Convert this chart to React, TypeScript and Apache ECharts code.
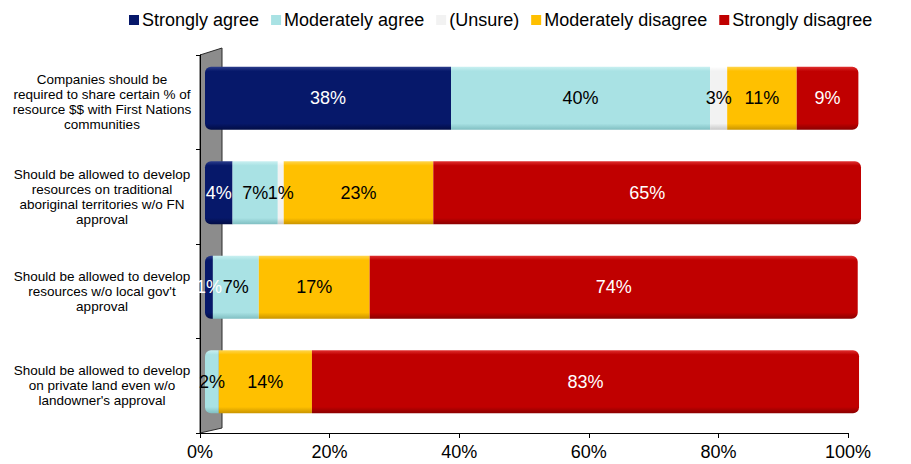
import React, { useEffect, useRef } from "react";
import * as echarts from "echarts";

const categories = [
  "Companies should be\nrequired to share certain % of\nresource $$ with First Nations\ncommunities",
  "Should be allowed to develop\nresources on traditional\naboriginal territories w/o FN\napproval",
  "Should be allowed to develop\nresources w/o local gov't\napproval",
  "Should be allowed to develop\non private land even w/o\nlandowner's approval",
];

const seriesNames = [
  "Strongly agree",
  "Moderately agree",
  "(Unsure)",
  "Moderately disagree",
  "Strongly disagree",
];

const stronglyAgree = [37.5, 4.2, 1.2, 0];
const moderatelyAgree = [39.5, 6.9, 7.0, 2.1];
const unsure = [2.6, 0.9, 0, 0];
const moderatelyDisagree = [10.6, 22.8, 16.9, 14.2];
const stronglyDisagree = [9.4, 65.2, 74.4, 83.4];

const xTicks = [0, 20, 40, 60, 80, 100];

const baseColors = ["#06186A", "#A9E2E4", "#F2F2F2", "#FFC000", "#C00000"];
const lightColors = ["#2B3D8C", "#C9F0F1", "#FFFFFF", "#FFD54D", "#E03030"];
const darkColors = ["#020D45", "#80BFC2", "#C8C8C8", "#C99400", "#8A0000"];
const labelColors = ["#FFFFFF", "#000000", "#000000", "#000000", "#FFFFFF"];

const allValues = [stronglyAgree, moderatelyAgree, unsure, moderatelyDisagree, stronglyDisagree];

export default function App() {
  const ref = useRef<HTMLDivElement>(null);
  useEffect(() => {
    if (!ref.current) return;
    const chart = echarts.init(ref.current, undefined, { renderer: "svg" });
    const font = "Arial, 'Liberation Sans', sans-serif";

    const firstIdx = categories.map((_, r) => allValues.findIndex((s) => s[r] > 0));
    const lastIdx = categories.map((_, r) => {
      let k = -1;
      allValues.forEach((s, i) => {
        if (s[r] > 0) k = i;
      });
      return k;
    });

    const series = allValues.map((vals, si) => ({
      name: seriesNames[si],
      type: "bar",
      stack: "total",
      xAxisIndex: 1,
      yAxisIndex: 1,
      barWidth: 63,
      itemStyle: {
        color: new echarts.graphic.LinearGradient(0, 0, 0, 1, [
          { offset: 0, color: lightColors[si] },
          { offset: 0.07, color: baseColors[si] },
          { offset: 0.9, color: baseColors[si] },
          { offset: 1, color: darkColors[si] },
        ]),
      },
      label: {
        show: true,
        position: "inside",
        color: labelColors[si],
        fontSize: 18,
        fontFamily: font,
        formatter: (p: any) => Math.round(p.value) + "%",
      },
      data: vals.map((v, r) => {
        const rad = [0, 0, 0, 0];
        if (firstIdx[r] === si) {
          rad[0] = 6;
          rad[3] = 6;
        }
        if (lastIdx[r] === si) {
          rad[1] = 6;
          rad[2] = 6;
        }
        return {
          value: v,
          itemStyle: { borderRadius: rad },
          label: { show: v > 0 },
        };
      }),
    }));

    chart.setOption({
      animation: false,
      legend: {
        data: seriesNames.map((n, i) => ({ name: n, itemStyle: { color: baseColors[i] } })),
        left: 124,
        top: 6,
        width: 790,
        itemWidth: 10,
        itemHeight: 10,
        itemGap: 12,
        icon: "rect",
        textStyle: { fontSize: 18, fontFamily: font, color: "#000", padding: [0, 0, 0, -2] },
      },
      grid: [
        { left: 200, right: 63, top: 55, bottom: 31 },
        { left: 205, right: 50, top: 51, bottom: 35 },
      ],
      xAxis: [
        {
          type: "value",
          gridIndex: 0,
          min: 0,
          max: 100,
          interval: 20,
          axisLine: { show: true, lineStyle: { color: "#000", width: 1 } },
          axisTick: { show: true, length: 5, lineStyle: { color: "#000" } },
          splitLine: { show: false },
          axisLabel: {
            fontSize: 18,
            fontFamily: font,
            color: "#000",
            margin: 10,
            formatter: (v: number) => (xTicks.includes(v) ? v + "%" : ""),
          },
        },
        { type: "value", gridIndex: 1, min: 0, max: 100, show: false },
      ],
      yAxis: [
        {
          type: "category",
          gridIndex: 0,
          inverse: true,
          data: categories,
          axisLine: { show: true, lineStyle: { color: "#000" } },
          axisTick: { show: true, length: 4, lineStyle: { color: "#000" } },
          axisLabel: {
            fontSize: 13.5,
            lineHeight: 15,
            fontFamily: font,
            color: "#000",
            align: "center",
            margin: 98,
          },
        },
        { type: "category", gridIndex: 1, inverse: true, data: categories, show: false },
      ],
      graphic: [
        {
          type: "polygon",
          z: -1,
          shape: {
            points: [
              [200, 55],
              [222, 48],
              [222, 428],
              [200, 433],
            ],
          },
          style: { fill: "#8C8C8C", stroke: "#2a2a2a", lineWidth: 1 },
        },
      ],
      series,
    });
    return () => chart.dispose();
  }, []);
  return (
    <div
      ref={ref}
      style={{ position: "fixed", left: 0, top: 0, width: 911, height: 464, background: "#fff" }}
    />
  );
}
